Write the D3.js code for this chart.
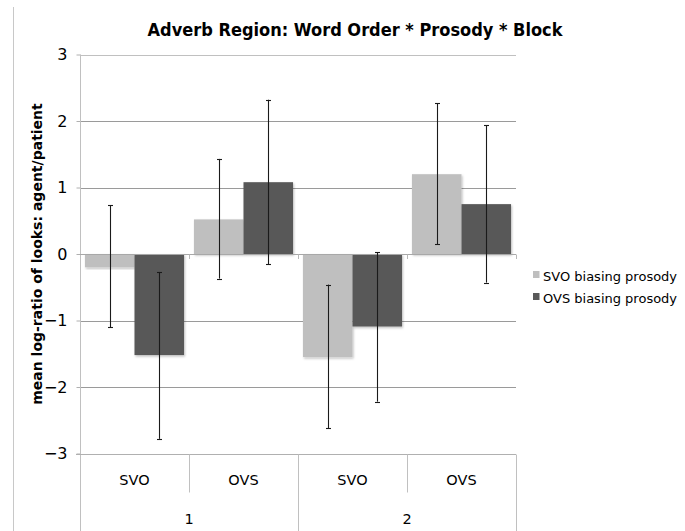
<!DOCTYPE html>
<html>
<head>
<meta charset="utf-8">
<script src="https://cdn.jsdelivr.net/npm/d3@7"></script>
<style>
  html, body { margin: 0; padding: 0; background: #fff; }
  svg { display: block; }
  text { font-family: "DejaVu Sans", sans-serif; fill: #000; }
</style>
</head>
<body>
<svg id="chart" width="685" height="531"></svg>
<script>
// Cells: block x word order
const blocks = ["1", "2"];
const wordOrders = ["SVO", "OVS"];
const seriesNames = ["SVO biasing prosody", "OVS biasing prosody"];
// Mean log-ratio per cell, in cell order (1 SVO, 1 OVS, 2 SVO, 2 OVS)
const svoProsody = [-0.20, 0.52, -1.55, 1.20];
const ovsProsody = [-1.52, 1.08, -1.09, 0.75];
// Error bar ends (low, high) per cell
const svoLow  = [-1.10, -0.37, -2.62, 0.15];
const svoHigh = [0.73, 1.43, -0.46, 2.27];
const ovsLow  = [-2.78, -0.15, -2.22, -0.43];
const ovsHigh = [-0.27, 2.32, 0.03, 1.94];
const yTicks = [-3, -2, -1, 0, 1, 2, 3];
const seriesColors = ["#bfbfbf", "#595959"];

const svg = d3.select("#chart");
const margin = { left: 80, right: 169, top: 54.5, bottom: 77.5 };
const W = 685, H = 531;
const plotRight = W - margin.right;
const plotBottom = H - margin.bottom;

const cells = [];
blocks.forEach(b => wordOrders.forEach(w => cells.push(b + "|" + w)));

const x = d3.scaleBand().domain(cells).range([margin.left, plotRight]).paddingInner(0).paddingOuter(0);
const xInner = d3.scaleBand().domain([0, 1]).range([0, x.bandwidth()]).paddingOuter(0.1).paddingInner(0);
const y = d3.scaleLinear().domain([-3, 3]).range([plotBottom, margin.top]);

// Soft drop shadow on the bars
const defs = svg.append("defs");
const f = defs.append("filter").attr("id", "shadow").attr("x", "-10%").attr("y", "-10%").attr("width", "130%").attr("height", "130%");
f.append("feDropShadow").attr("dx", 1).attr("dy", 1.5).attr("stdDeviation", 1).attr("flood-color", "#000").attr("flood-opacity", 0.25);

// Outer frame line on the left
svg.append("line").attr("x1", 13.5).attr("x2", 13.5).attr("y1", 7).attr("y2", H)
  .attr("stroke", "#c8c8c8").attr("stroke-width", 1);

// Title
svg.append("text").attr("x", 355).attr("y", 36).attr("text-anchor", "middle")
  .style("font-family", "'DejaVu Sans Condensed', 'DejaVu Sans', sans-serif")
  .style("font-weight", "bold").style("font-size", "18px")
  .text("Adverb Region: Word Order * Prosody * Block");

// Horizontal gridlines
svg.append("g").selectAll("line").data(yTicks).join("line")
  .attr("x1", margin.left).attr("x2", plotRight)
  .attr("y1", d => Math.round(y(d)) + 0.5).attr("y2", d => Math.round(y(d)) + 0.5)
  .attr("stroke", d => (d === 3 ? "#c0c0c0" : "#9a9a9a")).attr("stroke-width", 1);

// Y axis
const yAxis = d3.axisLeft(y).tickValues(yTicks).tickSize(4).tickPadding(9)
  .tickFormat(d => d < 0 ? "\u2212" + Math.abs(d) : d);
const gy = svg.append("g").attr("transform", `translate(${margin.left + 0.5},0)`).call(yAxis);
gy.select(".domain").remove();
gy.selectAll(".tick line").attr("stroke", "#b0b0b0");
gy.selectAll(".tick text").style("font-size", "16px").style("font-family", "'DejaVu Sans', sans-serif").attr("fill", "#000");
svg.append("line").attr("x1", margin.left + 0.5).attr("x2", margin.left + 0.5)
  .attr("y1", margin.top).attr("y2", H).attr("stroke", "#c0c0c0");

// Y axis title
svg.append("text")
  .attr("transform", `translate(42,${(margin.top + plotBottom) / 2}) rotate(-90)`)
  .attr("text-anchor", "middle")
  .style("font-weight", "bold").style("font-size", "14px")
  .text("mean log-ratio of looks: agent/patient");

// Bars
const series = [
  { name: seriesNames[0], vals: svoProsody, lo: svoLow, hi: svoHigh },
  { name: seriesNames[1], vals: ovsProsody, lo: ovsLow, hi: ovsHigh }
];
const barsG = svg.append("g");
series.forEach((s, si) => {
  barsG.selectAll(null).data(cells).join("rect")
    .attr("x", (c) => x(c) + xInner(si))
    .attr("width", xInner.bandwidth())
    .attr("y", (c, i) => y(Math.max(0, s.vals[i])))
    .attr("height", (c, i) => Math.abs(y(s.vals[i]) - y(0)))
    .attr("fill", seriesColors[si])
    .attr("filter", "url(#shadow)");
});

// Zero line across the middle
svg.append("line").attr("x1", margin.left).attr("x2", plotRight)
  .attr("y1", Math.round(y(0)) + 0.5).attr("y2", Math.round(y(0)) + 0.5)
  .attr("stroke", "#a8a8a8");
// Small tick marks between cells on the zero line
svg.append("g").selectAll("line").data(cells.slice(1).concat(["end"])).join("line")
  .attr("x1", c => (c === "end" ? plotRight : x(c)) + 0.5)
  .attr("x2", c => (c === "end" ? plotRight : x(c)) + 0.5)
  .attr("y1", Math.round(y(0)) + 0.5).attr("y2", Math.round(y(0)) + 5)
  .attr("stroke", "#b8b8b8");

// Error bars
const errG = svg.append("g");
series.forEach((s, si) => {
  cells.forEach((c, i) => {
    const cx = Math.round(x(c) + xInner(si) + xInner.bandwidth() / 2) + 0.5;
    const g = errG.append("g").attr("stroke", "#1a1a1a").attr("stroke-width", 1.1);
    g.append("line").attr("x1", cx).attr("x2", cx).attr("y1", y(s.hi[i])).attr("y2", y(s.lo[i]));
    [s.hi[i], s.lo[i]].forEach(v => {
      g.append("line").attr("x1", cx - 2.5).attr("x2", cx + 2.5)
        .attr("y1", Math.round(y(v)) + 0.5).attr("y2", Math.round(y(v)) + 0.5);
    });
  });
});

// Category axis at the bottom (two levels: word order, block)
const axisY = Math.round(y(-3)) + 0.5;
svg.append("line").attr("x1", margin.left - 4).attr("x2", plotRight).attr("y1", axisY).attr("y2", axisY).attr("stroke", "#b0b0b0");
// Separators between word orders within a block
cells.forEach((c, i) => {
  if (i % 2 === 1) {
    svg.append("line").attr("x1", x(c) + 0.5).attr("x2", x(c) + 0.5)
      .attr("y1", axisY).attr("y2", axisY + 38).attr("stroke", "#c0c0c0");
  }
});
// Separators between blocks, running to the bottom
const blockEdges = [cells[2], "end"];
blockEdges.forEach(c => {
  const xx = (c === "end" ? plotRight : x(c)) + 0.5;
  svg.append("line").attr("x1", xx).attr("x2", xx).attr("y1", axisY).attr("y2", H).attr("stroke", "#c0c0c0");
});
svg.append("g").selectAll("text").data(cells).join("text")
  .attr("x", c => x(c) + x.bandwidth() / 2).attr("y", axisY + 30)
  .attr("text-anchor", "middle").style("font-size", "14.5px")
  .text(c => c.split("|")[1]);
svg.append("g").selectAll("text").data(blocks).join("text")
  .attr("x", (b, i) => x(cells[i * 2]) + x.bandwidth()).attr("y", axisY + 69)
  .attr("text-anchor", "middle").style("font-size", "14.5px")
  .text(b => b);

// Legend
const leg = svg.append("g").attr("transform", "translate(533,0)");
seriesNames.forEach((n, i) => {
  const ly = 276 + i * 22;
  leg.append("rect").attr("x", 0).attr("y", ly - 5).attr("width", 6.5).attr("height", 7).attr("fill", seriesColors[i]);
  leg.append("text").attr("x", 10).attr("y", ly + 5).style("font-size", "13px").text(n);
});
</script>
</body>
</html>
